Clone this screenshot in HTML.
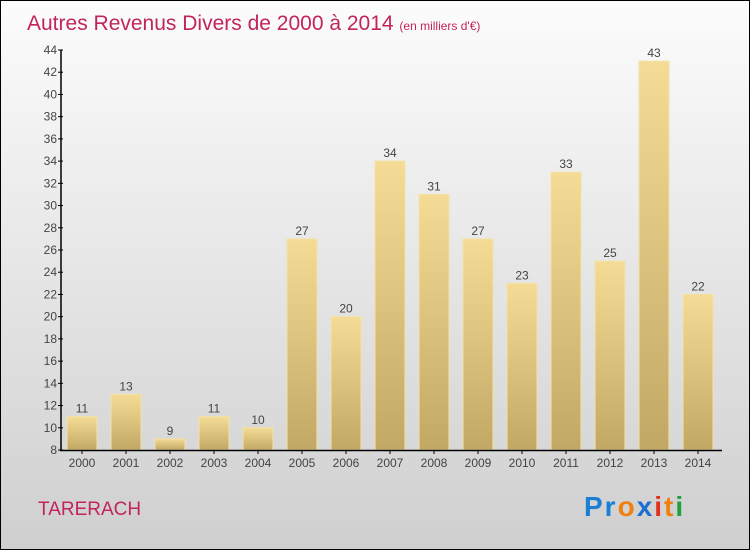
<!DOCTYPE html>
<html><head><meta charset="utf-8"><style>
body{margin:0}
#wrap{position:relative;width:748px;height:548px;border:1px solid #000;background:linear-gradient(#fcfcfc,#cfcfcf);font-family:"Liberation Sans",sans-serif;overflow:hidden}
</style></head><body>
<div id="wrap">
<svg id="c" width="748" height="548">
<defs><linearGradient id="bg" x1="0" y1="0" x2="0" y2="1"><stop offset="0" stop-color="#f4dc96"/><stop offset="1" stop-color="#c2a865"/></linearGradient></defs>
<text x="26" y="29" font-size="21" fill="#c2245e">Autres Revenus Divers de 2000 à 2014 <tspan font-size="12">(en milliers d'€)</tspan></text>
<text x="37" y="514" font-size="19" fill="#c2245e">TARERACH</text>
<text x="583" y="515" font-size="28" font-weight="bold" letter-spacing="2"><tspan fill="#1a7fd4">Pr</tspan><tspan fill="#f08010">o</tspan><tspan fill="#1a6fd0">x</tspan><tspan fill="#e03020">i</tspan><tspan fill="#f08010">t</tspan><tspan fill="#20a040">i</tspan></text>
<g id="g"></g>
</svg>
</div>
<script>
const categories=["2000","2001","2002","2003","2004","2005","2006","2007","2008","2009","2010","2011","2012","2013","2014"];
const values=[11,13,9,11,10,27,20,34,31,27,23,33,25,43,22];
const yTicks=[8,10,12,14,16,18,20,22,24,26,28,30,32,34,36,38,40,42,44];
const ns="http://www.w3.org/2000/svg",g=document.getElementById('g');
const y=v=>449-(v-8)*(400/36), x=i=>81+i*44;
function el(t,a,txt){const e=document.createElementNS(ns,t);for(const k in a)e.setAttribute(k,a[k]);if(txt!=null)e.textContent=txt;g.appendChild(e);return e;}
values.forEach((v,i)=>{
 const r=el('rect',{x:x(i)-15,y:y(v),width:30,height:449-y(v),fill:'url(#bg)',stroke:'#f4e2a6','stroke-width':1});
 
 
 const t=el('text',{x:x(i),y:y(v)-4,'font-size':12,fill:'#444','text-anchor':'middle'},v);
 
 
 const c=el('text',{x:x(i),y:466,'font-size':12,fill:'#444','text-anchor':'middle'},categories[i]);
 
 
 el('line',{x1:x(i),x2:x(i),y1:449,y2:453,stroke:'#000'});
});
yTicks.forEach(v=>{
 el('line',{x1:57,x2:62,y1:y(v),y2:y(v),stroke:'#000'});
 const t=el('text',{x:56,y:y(v)+4,'font-size':12,fill:'#444','text-anchor':'end'},v);
 
 
});
const ya=el('line',{x1:60,x2:60,y1:y(44),y2:450,stroke:'#000','stroke-width':1.5});


const xa=el('line',{x1:59,x2:721,y1:449.5,y2:449.5,stroke:'#000','stroke-width':1.5});


</script>
</body></html>
